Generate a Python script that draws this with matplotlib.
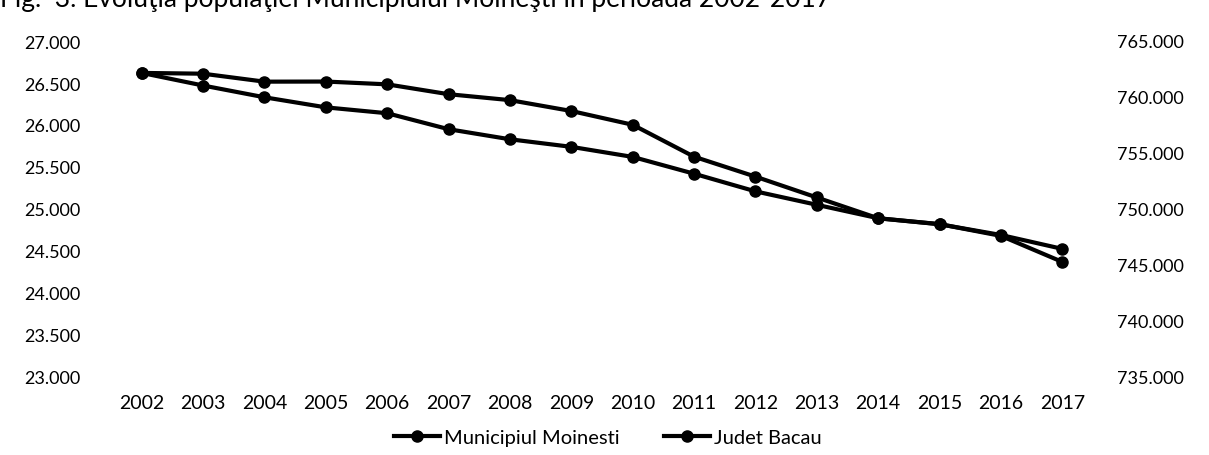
import matplotlib.pyplot as plt
from matplotlib.ticker import FuncFormatter

plt.rcParams['font.family'] = ['Lato', 'DejaVu Sans']

# ani si valori
years = ['2002', '2003', '2004', '2005', '2006', '2007', '2008', '2009',
         '2010', '2011', '2012', '2013', '2014', '2015', '2016', '2017']
moinesti = [26620, 26470, 26330, 26210, 26140, 25950, 25830, 25740,
            25620, 25420, 25210, 25050, 24890, 24820, 24680, 24370]
bacau = [762150, 762080, 761370, 761380, 761130, 760250, 759720, 758750,
         757520, 754670, 752890, 751030, 749170, 748640, 747680, 746440]

left_ticks = [23000, 23500, 24000, 24500, 25000, 25500, 26000, 26500, 27000]
right_ticks = [735000, 740000, 745000, 750000, 755000, 760000, 765000]

title = 'Fig.  3. Evoluţia populaţiei Municipiului Moineşti în perioada 2002-2017'


def dot_thousands(v, pos):
    return f'{int(round(v)):,}'.replace(',', '.')


W, H = 1209, 456
fig = plt.figure(figsize=(W / 100, H / 100), dpi=100)
ax = fig.add_axes([111 / W, (H - 378) / H, (1093 - 111) / W, 336 / H])
ax2 = ax.twinx()

x = range(len(years))
l1, = ax.plot(x, moinesti, color='black', lw=3, marker='o', ms=8,
              label='Municipiul Moinesti')
l2, = ax2.plot(x, bacau, color='black', lw=3, marker='o', ms=8,
               label='Judet Bacau')

ax.set_xlim(-0.5, len(years) - 0.5)
ax.set_ylim(23000, 27000)
ax2.set_ylim(735000, 765000)
ax.set_xticks(list(x))
ax.set_xticklabels(years)
ax.set_yticks(left_ticks)
ax2.set_yticks(right_ticks)
ax.yaxis.set_major_formatter(FuncFormatter(dot_thousands))
ax2.yaxis.set_major_formatter(FuncFormatter(dot_thousands))

for a in (ax, ax2):
    for s in a.spines.values():
        s.set_visible(False)
    a.tick_params(length=0, labelsize=13)
ax.tick_params(axis='y', pad=22)
ax2.tick_params(axis='y', pad=17)
ax.tick_params(axis='x', pad=12, labelsize=14)

fig.legend(handles=[l1, l2], loc='center', bbox_to_anchor=(608 / W, 1 - 438 / H),
           ncol=2, frameon=False, fontsize=14.5, handlelength=2.3,
           columnspacing=2.2, handletextpad=0.2)

fig.text(0, 1 - 7 / H, title, fontsize=19, va='baseline', ha='left')

fig.savefig('out.png', dpi=100)
